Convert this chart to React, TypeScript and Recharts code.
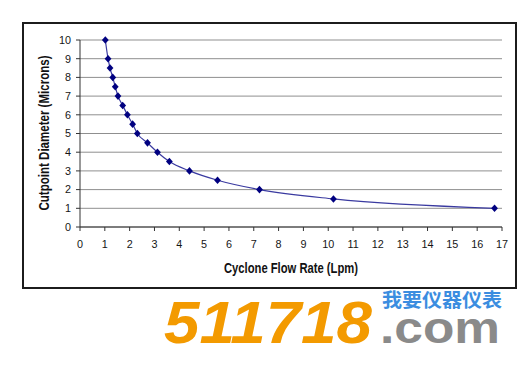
import React from "react";
import { LineChart, Line, XAxis, YAxis, CartesianGrid } from "recharts";

const flowRate = [1.02, 1.13, 1.21, 1.32, 1.42, 1.53, 1.72, 1.91, 2.12, 2.31, 2.72, 3.12, 3.6, 4.41, 5.54, 7.23, 10.21, 16.7];
const cutpoint = [10, 9, 8.5, 8, 7.5, 7, 6.5, 6, 5.5, 5, 4.5, 4, 3.5, 3, 2.5, 2, 1.5, 1];
const xTicks = [0, 1, 2, 3, 4, 5, 6, 7, 8, 9, 10, 11, 12, 13, 14, 15, 16, 17];
const yTicks = [0, 1, 2, 3, 4, 5, 6, 7, 8, 9, 10];
const xTitle = "Cyclone Flow Rate (Lpm)";
const yTitle = "Cutpoint Diameter (Microns)";
const brandNum = "511718";
const brandDom = ".com";
const brandCn = "我要仪器仪表";

const data = flowRate.map((f, i) => ({ flow: f, cut: cutpoint[i] }));

const Diamond = (props: any) => {
  const { cx, cy } = props;
  if (cx == null || cy == null) return null;
  return (
    <polygon
      points={`${cx},${cy - 3.8} ${cx + 3.4},${cy} ${cx},${cy + 3.8} ${cx - 3.4},${cy}`}
      fill="#000080"
      stroke="none"
    />
  );
};

const tickStyle = { fontFamily: "'Liberation Sans', Arial, sans-serif", fontSize: 10.8, fill: "#151515" };
const titleFont = "'Liberation Sans Narrow', 'Arial Narrow', 'Liberation Sans', Arial, sans-serif";

export default function App() {
  return (
    <div style={{ position: "absolute", left: 0, top: 0, width: 529, height: 368, background: "#fff", overflow: "hidden" }}>
      <div style={{ position: "absolute", left: 0, top: 0 }}>
        <LineChart width={529} height={368} data={data} margin={{ top: 40, right: 27, bottom: 59, left: 8 }}>
          <CartesianGrid vertical={false} stroke="#8f8f8f" strokeWidth={1} />
          <XAxis
            dataKey="flow"
            type="number"
            domain={[0, 17]}
            ticks={xTicks}
            interval={0}
            height={82}
            tickSize={4}
            tickMargin={9}
            stroke="#333"
            tick={tickStyle}
          />
          <YAxis
            dataKey="cut"
            type="number"
            domain={[0, 10]}
            ticks={yTicks}
            interval={0}
            width={72}
            tickSize={4}
            tickMargin={5}
            stroke="#333"
            tick={tickStyle}
          />
          <Line
            type="monotone"
            dataKey="cut"
            stroke="#3a3aa0"
            strokeWidth={1.2}
            dot={<Diamond />}
            activeDot={false}
            isAnimationActive={false}
          />
        </LineChart>
      </div>
      <svg width={529} height={368} style={{ position: "absolute", left: 0, top: 0, pointerEvents: "none" }}>
        <rect x={23} y={23} width={493} height={265} fill="none" stroke="#1c1c1c" strokeWidth={2} />
        <text
          x={291}
          y={273}
          textAnchor="middle"
          fontFamily={titleFont}
          fontWeight="bold"
          fontSize={14}
          fill="#111"
          textLength={134}
          lengthAdjust="spacingAndGlyphs"
        >
          {xTitle}
        </text>
        <text
          transform="translate(49,133) rotate(-90)"
          x={0}
          y={0}
          textAnchor="middle"
          fontFamily={titleFont}
          fontWeight="bold"
          fontSize={14}
          fill="#111"
          textLength={155}
          lengthAdjust="spacingAndGlyphs"
        >
          {yTitle}
        </text>
        <text
          x={164}
          y={343}
          fontFamily="'Liberation Sans', Arial, sans-serif"
          fontWeight="bold"
          fontStyle="italic"
          fontSize={60}
          fill="#f39a00"
          textLength={208}
          lengthAdjust="spacingAndGlyphs"
        >
          {brandNum}
        </text>
        <text
          x={380}
          y={343}
          fontFamily="'Liberation Sans', Arial, sans-serif"
          fontWeight="bold"
          fontSize={44}
          fill="#8a8a8a"
          textLength={120}
          lengthAdjust="spacingAndGlyphs"
        >
          {brandDom}
        </text>
        <text
          x={382}
          y={307}
          fontFamily="'Noto Sans CJK SC', sans-serif"
          fontWeight="bold"
          fontSize={19}
          fill="#3b8de0"
          textLength={120}
          lengthAdjust="spacingAndGlyphs"
        >
          {brandCn}
        </text>
      </svg>
    </div>
  );
}
